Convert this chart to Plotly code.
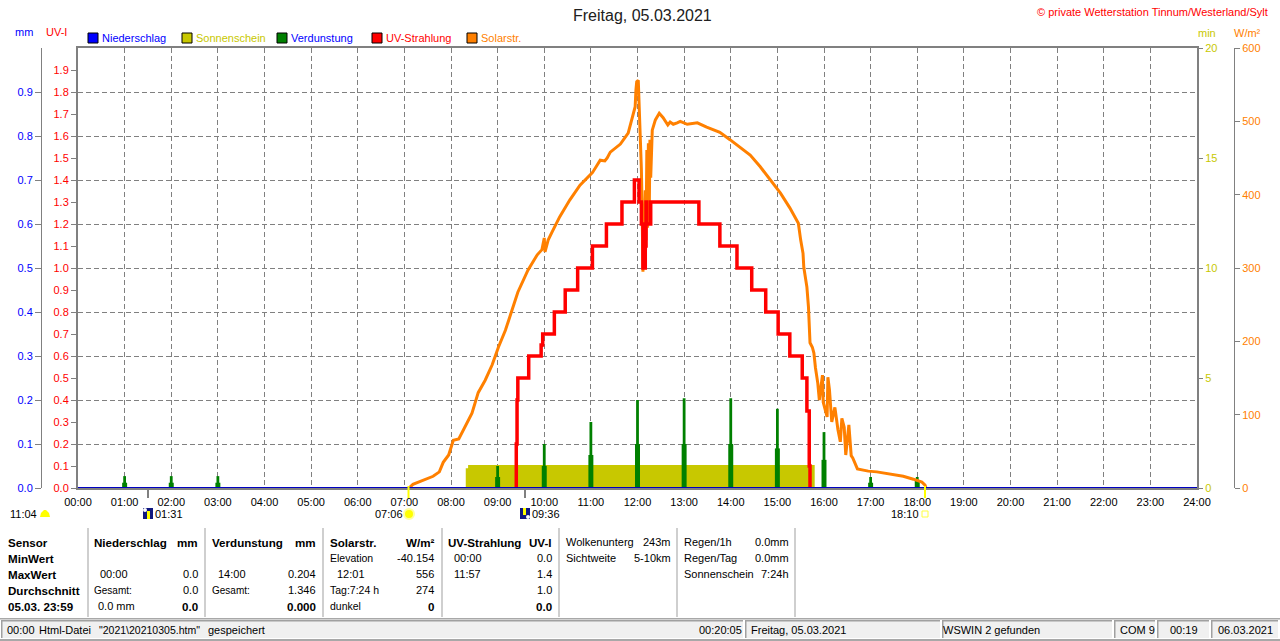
import plotly.graph_objects as go

# Tageswerte (Zeit in Minuten seit 00:00)
solar_min = [425, 427, 431, 444, 457, 465, 470, 477, 483, 490, 498, 507, 515, 524, 533, 541, 550, 559, 566,
             579, 591, 597, 600, 601, 605, 610, 620, 633, 646, 662, 672, 678, 681, 685, 698, 708, 713, 717,
             718, 719, 721, 722, 723, 725, 726, 727, 729, 730, 731, 732, 733, 734, 735, 736, 737, 739, 743, 748,
             753, 756, 759, 762, 766, 771, 775, 784, 797, 809, 826, 839, 852, 865, 878, 891, 904, 916, 927, 930, 933, 934,
             938, 940, 941, 942, 945, 947, 949, 952, 954, 958, 959, 964, 965, 967, 970, 974, 978, 981, 983,
             986, 988, 992, 995, 997, 1003, 1017, 1028, 1045, 1062, 1075, 1086, 1090, 1091, 1360, 1440]
solar_wm2 = [0, 1, 5, 11, 16, 22, 35, 45, 65, 67, 83, 102, 130, 147, 168, 192, 215, 243, 267,
             297, 318, 325, 341, 322, 338, 349, 370, 393, 413, 430, 447, 446, 450, 458, 469, 484, 502, 520,
             543, 554, 556, 529, 479, 434, 375, 295, 352, 406, 338, 461, 355, 470, 360, 475, 423, 488, 502, 511, 505,
             499, 495, 499, 496, 498, 500, 496, 498, 492, 485, 475, 464, 454, 438, 420, 402, 382, 361, 338, 320, 301, 274,
             247, 220, 198, 192, 184, 164, 143, 120, 154, 117, 97, 151, 134, 90, 110, 79, 63, 95, 83,
             45, 86, 44, 41, 26, 23, 22, 19, 16, 12, 8, 4, 1, None, 0, 0]

uv_min = [563, 564, 565, 566, 580, 596, 598, 613, 627, 643, 662, 680, 700, 716, 722, 725, 727, 730, 731, 732,
          737, 799, 826, 848, 867, 885, 901, 916, 932, 938, 941, 942, 1425, 1440]
uv_idx = [0, 0.2, 0.4, 0.5, 0.6, 0.65, 0.7, 0.8, 0.9, 1.0, 1.1, 1.2, 1.3, 1.4, 1.3, 1.2, 1.0, 1.1, 1.3, 1.2,
          1.3, 1.2, 1.1, 1.0, 0.9, 0.8, 0.7, 0.6, 0.5, 0.35, 0.1, 0, None, 0]

verd_hour = [60, 120, 180, 540, 600, 660, 720, 780, 840, 900, 960, 1020, 1080]
verd_peak = [0.027, 0.027, 0.027, 0.05, 0.10, 0.15, 0.20, 0.204, 0.204, 0.18, 0.127, 0.025, 0.025]
verd_base = [0.012, 0.012, 0.012, 0.025, 0.05, 0.075, 0.10, 0.10, 0.10, 0.09, 0.064, 0.012, 0.016]

sonne_min = [499, 502, 948]
sonne_val = [0.9, 1.04, 0]

regen_min = [0, 1440]
regen_mm = [0, 0]

stunden = list(range(0, 1441, 60))
stunden_text = ["%02d:00" % h for h in range(25)]
mm_ticks = [0.0, 0.1, 0.2, 0.3, 0.4, 0.5, 0.6, 0.7, 0.8, 0.9]
uv_ticks = [0.0, 0.1, 0.2, 0.3, 0.4, 0.5, 0.6, 0.7, 0.8, 0.9, 1.0, 1.1, 1.2, 1.3, 1.4, 1.5, 1.6, 1.7, 1.8, 1.9]
min_ticks = [0, 5, 10, 15, 20]
wm2_ticks = [0, 100, 200, 300, 400, 500, 600]

BLAU = "#0000ff"
GELB = "#c8c800"
GRUEN = "#008000"
ROT = "#ff0000"
ORANGE = "#ff8000"
GRAU = "#808080"
FONT = "Liberation Sans"


def xp(x):
    return x / 1280


def yp(y):
    return 1 - y / 641


annos = []
shapes = []


def text(x, y, s, color="black", size=11, anchor="left", bold=False):
    if bold:
        s = "<b>" + s + "</b>"
        size = 11.6
    annos.append(dict(x=xp(x), y=yp(y), xref="paper", yref="paper", text=s, showarrow=False,
                      xanchor=anchor, yanchor="middle", borderpad=0, borderwidth=0,
                      font=dict(family=FONT, size=size, color=color)))


def box(x0, y0, x1, y1, fill=None, line=None, lw=1):
    shapes.append(dict(type="rect", xref="paper", yref="paper", x0=xp(x0), x1=xp(x1), y0=yp(y0), y1=yp(y1),
                       fillcolor=fill if fill else "rgba(0,0,0,0)",
                       line=dict(color=line if line else "rgba(0,0,0,0)", width=lw if line else 0)))


fig = go.Figure()

# Reihenfolge der Achsen bestimmt, was oben liegt
fig.add_trace(go.Scatter(x=sonne_min, y=sonne_val, yaxis="y", mode="lines", fill="tozeroy", fillcolor=GELB,
                         line=dict(color=GELB, width=0, shape="hv"), name="Sonnenschein"))
fig.add_trace(go.Bar(x=verd_hour, y=verd_base, yaxis="y2", width=6.4, marker=dict(color=GRUEN, line_width=0),
                     name="Verdunstung"))
fig.add_trace(go.Bar(x=verd_hour, y=verd_peak, yaxis="y2", width=3.6, marker=dict(color=GRUEN, line_width=0),
                     name="Verdunstung"))
fig.add_trace(go.Scatter(x=solar_min, y=solar_wm2, yaxis="y3", mode="lines", line=dict(color=ORANGE, width=3),
                         connectgaps=False, cliponaxis=False, name="Solarstr."))
fig.add_trace(go.Scatter(x=uv_min, y=uv_idx, yaxis="y4", mode="lines", line=dict(color=ROT, width=3.5, shape="hv"),
                         connectgaps=False, cliponaxis=False, name="UV-Strahlung"))
fig.add_trace(go.Scatter(x=regen_min, y=regen_mm, yaxis="y5", mode="lines", line=dict(color="#0000c0", width=2),
                         name="Niederschlag"))

# Legende oben
text(102, 38, "Niederschlag", BLAU)
text(196, 38, "Sonnenschein", GELB)
text(291, 38, "Verdunstung", BLAU)
text(386, 38, "UV-Strahlung", ROT)
text(481, 38, "Solarstr.", ORANGE)
for x0, col in [(88, BLAU), (182, GELB), (277, GRUEN), (372, ROT), (467, ORANGE)]:
    box(x0, 33, x0 + 10, 43, col, "black", 1)

text(642, 15, "Freitag, 05.03.2021", "#202020", 16, "center")
text(1268, 12, "© private Wetterstation Tinnum/Westerland/Sylt", ROT, 11, "right")
text(15, 32, "mm", BLAU, 11)
text(46, 32, "UV-I", ROT, 11)
text(1198, 33, "min", GELB, 11)
text(1234, 33, "W/m²", ORANGE, 11)

# Auf- und Untergang
for x0, col in [(148, GRAU), (525, GRAU), (408.5, "#ffff00"), (925, "#ffff00")]:
    box(x0 - 1, 486 if col != GRAU else 490, x0 + 1, 498, col)
text(10, 514, "11:04")
text(155, 514, "01:31")
text(375, 514, "07:06")
text(532, 514, "09:36")
text(891, 514, "18:10")
shapes.append(dict(type="path", xref="paper", yref="paper", fillcolor="#ffff00", line=dict(width=0),
                   path="M %f %f L %f %f L %f %f L %f %f L %f %f L %f %f Z" % (
                       xp(40), yp(517), xp(41), yp(513), xp(44), yp(510), xp(46), yp(510), xp(49), yp(513), xp(50), yp(517))))
box(143, 508, 153, 519, "#101880")
box(147, 511, 150, 519, "#ffff00")
shapes.append(dict(type="circle", xref="paper", yref="paper", x0=xp(143), x1=xp(147), y0=yp(512), y1=yp(508),
                   fillcolor="white", line=dict(width=0)))
box(520, 508, 530, 519, "#101880")
box(523, 508, 526, 515, "#ffff00")
shapes.append(dict(type="circle", xref="paper", yref="paper", x0=xp(526), x1=xp(530), y0=yp(519), y1=yp(515),
                   fillcolor="white", line=dict(width=0)))
shapes.append(dict(type="circle", xref="paper", yref="paper", x0=xp(404), x1=xp(414), y0=yp(519), y1=yp(509),
                   fillcolor="#ffff00", line=dict(color="#ffffa0", width=2)))
box(922, 511, 928, 517, None, "#ffff40", 1)

# Tabelle unten
for i, s in enumerate(["Sensor", "MinWert", "MaxWert", "Durchschnitt", "05.03. 23:59"]):
    text(8, 542 + 16 * i, s, bold=True)
text(94, 542, "Niederschlag", bold=True)
text(198, 542, "mm", anchor="right", bold=True)
text(100, 574, "00:00")
text(198, 574, "0.0", anchor="right")
text(94, 590, "Gesamt:", size=10)
text(198, 590, "0.0", anchor="right")
text(98, 606, "0.0 mm")
text(198, 606, "0.0", anchor="right", bold=True)
text(212, 542, "Verdunstung", bold=True)
text(316, 542, "mm", anchor="right", bold=True)
text(218, 574, "14:00")
text(316, 574, "0.204", anchor="right")
text(212, 590, "Gesamt:", size=10)
text(316, 590, "1.346", anchor="right")
text(316, 606, "0.000", anchor="right", bold=True)
text(330, 542, "Solarstr.", bold=True)
text(434, 542, "W/m²", anchor="right", bold=True)
text(330, 558, "Elevation", size=10.5)
text(434, 558, "-40.154", anchor="right")
text(337, 574, "12:01")
text(434, 574, "556", anchor="right")
text(330, 590, "Tag:7:24 h", size=10.5)
text(434, 590, "274", anchor="right")
text(330, 606, "dunkel", size=10.5)
text(434, 606, "0", anchor="right", bold=True)
text(448, 542, "UV-Strahlung", bold=True)
text(552, 542, "UV-I", anchor="right", bold=True)
text(454, 558, "00:00")
text(552, 558, "0.0", anchor="right")
text(454, 574, "11:57")
text(552, 574, "1.4", anchor="right")
text(552, 590, "1.0", anchor="right")
text(552, 606, "0.0", anchor="right", bold=True)
text(566, 542, "Wolkenunterg")
text(671, 542, "243m", anchor="right")
text(566, 558, "Sichtweite")
text(671, 558, "5-10km", anchor="right")
text(684, 542, "Regen/1h")
text(789, 542, "0.0mm", anchor="right")
text(684, 558, "Regen/Tag")
text(789, 558, "0.0mm", anchor="right")
text(684, 574, "Sonnenschein")
text(789, 574, "7:24h", anchor="right")
for x0 in [88, 205, 323, 442, 559, 677, 795]:
    box(x0 - 0.5, 528, x0 + 0.5, 617, "#a0a0a0")

# Statusleiste
box(0, 618, 1280, 619.5, "#a8a8a8")
box(0, 639, 1280, 641, "#a8a8a8")
for x0, x1 in [(1, 743), (745, 940), (942, 1112), (1114, 1155), (1157, 1209), (1211, 1278)]:
    box(x0, 620, x1, 638, "#f0f0f0")
    box(x0, 620, x1, 621.5, "#a0a0a0")
    box(x0, 620, x0 + 1.5, 638, "#a0a0a0")
text(7, 630, "00:00")
text(39, 630, "Html-Datei")
text(99, 630, '"2021\\20210305.htm"', size=10.5)
text(208, 630, "gespeichert")
text(742, 630, "00:20:05", anchor="right")
text(751, 630, "Freitag, 05.03.2021")
text(943, 630, "WSWIN 2 gefunden")
text(1120, 630, "COM 9")
text(1170, 630, "00:19")
text(1218, 630, "06.03.2021")

ydom = [yp(488), yp(48)]
fig.update_layout(
    width=1280, height=641, margin=dict(l=0, r=0, t=0, b=0, autoexpand=False), paper_bgcolor="white", plot_bgcolor="white",
    showlegend=False, barmode="overlay", font=dict(family=FONT, size=11), annotations=annos, shapes=shapes,
    xaxis=dict(domain=[xp(78), xp(1197)], range=[0, 1440], tickmode="array", tickvals=stunden, ticktext=stunden_text,
               ticks="", ticklabelstandoff=3, tickfont=dict(color="black", size=11), automargin=False,
               showgrid=True, gridcolor=GRAU, griddash="5px,3px", gridwidth=1, zeroline=False,
               showline=True, mirror=True, linecolor=GRAU, linewidth=2, layer="below traces"),
    yaxis=dict(domain=ydom, range=[0, 20], side="right", anchor="x", tickmode="array", tickvals=min_ticks,
               ticks="outside", ticklen=5, tickcolor=GRAU, tickfont=dict(color=GELB, size=11), automargin=False,
               showgrid=False, zeroline=False, showline=False),
    yaxis2=dict(domain=ydom, range=[0, 1], overlaying="y", side="left", anchor="free", position=xp(41),
                tickmode="array", tickvals=mm_ticks, tickformat=".1f", ticks="outside", ticklen=6, tickcolor=GRAU,
                tickfont=dict(color=BLAU, size=11), showgrid=True, gridcolor=GRAU, griddash="5px,3px", gridwidth=1,
                zeroline=False, showline=True, linecolor=GRAU, linewidth=1, automargin=False),
    yaxis3=dict(domain=ydom, range=[0, 600], overlaying="y", side="right", anchor="free", position=xp(1234),
                tickmode="array", tickvals=wm2_ticks, ticks="outside", ticklen=5, tickcolor=GRAU,
                tickfont=dict(color=ORANGE, size=11), showgrid=False, zeroline=False, automargin=False,
                showline=True, linecolor=GRAU, linewidth=1),
    yaxis4=dict(domain=ydom, range=[0, 2], overlaying="y", side="left", anchor="x", tickmode="array",
                tickvals=uv_ticks, tickformat=".1f", ticks="outside", ticklen=5, tickcolor=GRAU,
                tickfont=dict(color=ROT, size=11), showgrid=False, zeroline=False, automargin=False,
                showline=True, mirror=True, linecolor=GRAU, linewidth=2),
    yaxis5=dict(domain=ydom, range=[0, 1], overlaying="y", visible=False),
)

fig.write_html("out.html", config={"displayModeBar": False}, post_script="document.body.style.margin='0';")
